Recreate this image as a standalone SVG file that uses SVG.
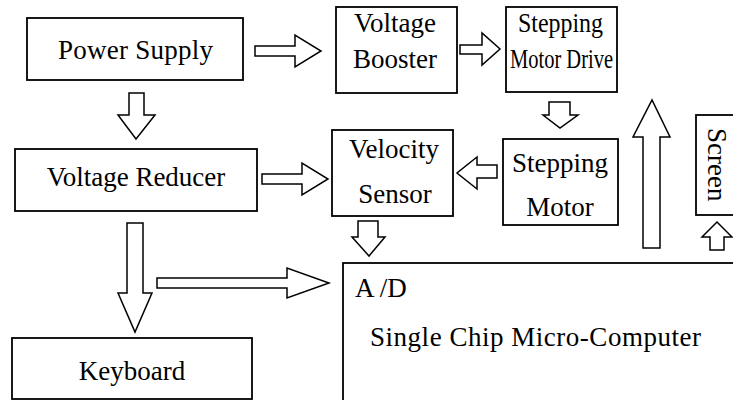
<svg xmlns="http://www.w3.org/2000/svg" width="733" height="400" viewBox="0 0 733 400">
<style>
.box{fill:#fff;stroke:#000;stroke-width:1.8}
.arr{fill:#fff;stroke:#000;stroke-width:1.5;stroke-linejoin:miter}
.t{font-family:'Liberation Serif','DejaVu Serif',serif;font-size:27px;fill:#000}
.c{text-anchor:middle}
</style>
<rect width="733" height="400" fill="#fff"/>
<g id="connectors">
<polygon class="arr" points="255,46 295,46 295,35 321,51 295,67 295,56 255,56"/>
<polygon class="arr" points="460,45 482,45 482,33 500,49 482,65 482,54 460,54"/>
<polygon class="arr" points="549,102 570,102 570,115 578,115 560,128 543,115 549,115"/>
<polygon class="arr" points="643,248 643,137 633,137 652,100 670,137 660,137 660,248"/>
<polygon class="arr" points="710,250 710,237 702,237 717,222 732,237 724,237 724,250"/>
<polygon class="arr" points="497,165 477,165 477,157 457,173 477,189 477,178 497,178"/>
<polygon class="arr" points="129,93 144,93 144,115 155,115 136,139 118,115 129,115"/>
<polygon class="arr" points="262,174 302,174 302,163 328,179 302,195 302,184 262,184"/>
<polygon class="arr" points="358,221 378,221 378,237 385,237 369,256 352,237 358,237"/>
<polygon class="arr" points="127,223 143,223 143,293 152,293 135,332 118,293 127,293"/>
<polygon class="arr" points="157,278 287,278 287,268 329,283 287,298 287,288 157,288"/>
</g>
<g font-family="Liberation Serif, DejaVu Serif, serif" font-size="27">
<g id="power-supply"><rect class="box" x="27" y="18" width="216" height="62"/><text class="t" x="58" y="59" textLength="155">Power Supply</text></g>
<g id="voltage-booster"><rect class="box" x="336" y="7" width="121" height="86"/><text class="t c" x="395" y="32">Voltage</text><text class="t c" x="395" y="68">Booster</text></g>
<g id="stepping-motor-drive"><rect class="box" x="506" y="7" width="111" height="85"/><text class="t" x="518" y="32" textLength="85" lengthAdjust="spacingAndGlyphs">Stepping</text><text class="t" x="510" y="68" textLength="103" lengthAdjust="spacingAndGlyphs">Motor Drive</text></g>
<g id="voltage-reducer"><rect class="box" x="15" y="149" width="242" height="62"/><text class="t c" x="136" y="186">Voltage Reducer</text></g>
<g id="velocity-sensor"><rect class="box" x="332" y="130" width="121" height="86"/><text class="t c" x="394" y="158">Velocity</text><text class="t c" x="395" y="203">Sensor</text></g>
<g id="stepping-motor"><rect class="box" x="503" y="139" width="115" height="86"/><text class="t c" x="560" y="172">Stepping</text><text class="t c" x="560" y="216">Motor</text></g>
<g id="screen"><rect class="box" x="696" y="115" width="45" height="100"/><text class="t" transform="translate(708,128) rotate(90)">Screen</text></g>
<g id="keyboard"><rect class="box" x="12" y="338" width="240" height="61"/><text class="t c" x="132" y="380">Keyboard</text></g>
<g id="micro-computer"><rect class="box" x="343" y="263" width="400" height="150"/><text class="t" x="355" y="297">A /D</text><text class="t" x="370" y="346" textLength="331">Single Chip Micro-Computer</text></g>
</g>
</svg>
